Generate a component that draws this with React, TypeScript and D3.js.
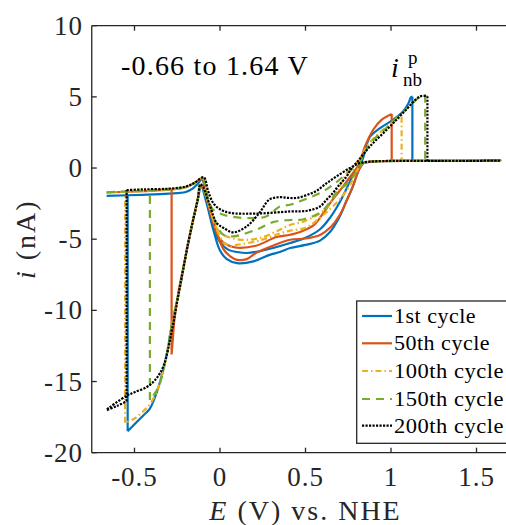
import React from 'react';
import * as d3 from 'd3';

type Pt = [number, number];

const cycleNames = ['1st cycle', '50th cycle', '100th cycle', '150th cycle', '200th cycle'];
const cycleColors = ['#0072BD', '#D95319', '#EDB120', '#77AC30', '#000000'];
const cycleDash = ['none', 'none', '6,3,1.5,3', '8,6', '2.2,1.3'];
const xTicks = [-0.5, 0, 0.5, 1, 1.5];
const yTicks = [10, 5, 0, -5, -10, -15, -20];

// 1st cycle
const cycle1: Pt[] = [
  [-0.663, -1.95], [-0.45, -1.88], [-0.3, -1.8], [-0.2, -1.68], [-0.16, -1.45], [-0.13, -1.1], [-0.105, -0.8],
  [-0.085, -1.6], [-0.06, -3.0], [-0.03, -4.4], [0.0, -5.2], [0.05, -5.75], [0.1, -5.9], [0.156, -5.97], [0.23, -5.85],
  [0.31, -5.62], [0.41, -5.27], [0.5, -4.9], [0.585, -4.3], [0.643, -3.5], [0.7, -2.4], [0.75, -1.2], [0.79, -0.2],
  [0.83, 0.5], [0.877, 2.2], [0.936, 2.8], [1.013, 3.4], [1.07, 3.98], [1.1, 4.5], [1.118, 5.0], [1.125, 5.0], [1.125, 0.5],
  [1.3, 0.5], [1.64, 0.52], [1.2, 0.5], [0.95, 0.49], [0.88, 0.45], [0.84, 0.35], [0.82, 0.1], [0.8, -0.5],
  [0.77, -1.5], [0.74, -2.3], [0.7, -3.4], [0.643, -4.5], [0.585, -5.1], [0.5, -5.4], [0.41, -5.62], [0.35, -5.9],
  [0.29, -6.1], [0.195, -6.56], [0.1, -6.68], [0.04, -6.4], [0.0, -5.8], [-0.04, -4.3], [-0.08, -2.4], [-0.11, -1.3],
  [-0.13, -2.2], [-0.16, -3.8], [-0.19, -5.5], [-0.205, -6.45], [-0.24, -8.7], [-0.283, -11.1], [-0.31, -13.0],
  [-0.36, -15.4], [-0.41, -16.9], [-0.45, -17.4], [-0.5, -18.0], [-0.54, -18.5], [-0.54, -1.9],
];

// 50th cycle
const cycle50: Pt[] = [
  [-0.663, -1.72], [-0.45, -1.62], [-0.3, -1.52], [-0.2, -1.35], [-0.15, -1.05], [-0.105, -0.75],
  [-0.085, -1.7], [-0.06, -3.0], [-0.03, -4.2], [0.0, -5.0], [0.05, -5.45], [0.1, -5.6], [0.21, -5.46], [0.33, -4.85],
  [0.41, -4.69], [0.468, -4.5], [0.55, -4.0], [0.604, -3.16], [0.66, -2.2], [0.72, -1.29], [0.78, -0.3], [0.81, 0.2],
  [0.848, 1.52], [0.896, 2.69], [0.946, 3.4], [0.985, 3.68], [1.004, 3.8], [1.004, 0.5],
  [1.3, 0.5], [1.64, 0.52], [1.2, 0.5], [0.95, 0.49], [0.88, 0.45], [0.84, 0.35], [0.81, -0.2], [0.78, -1.2],
  [0.74, -2.3], [0.7, -3.3], [0.643, -4.2], [0.585, -4.7], [0.5, -4.95], [0.41, -5.04], [0.29, -5.55], [0.21, -5.97],
  [0.156, -6.4], [0.1, -6.45], [0.06, -6.2], [0.02, -5.7], [-0.02, -4.5], [-0.06, -2.8], [-0.1, -1.4], [-0.115, -1.25],
  [-0.13, -2.2], [-0.16, -3.8], [-0.19, -5.5], [-0.205, -6.45], [-0.24, -8.5], [-0.265, -10.5], [-0.276, -12.0],
  [-0.283, -13.1], [-0.283, -1.5],
];

// 100th cycle
const cycle100: Pt[] = [
  [-0.663, -1.72], [-0.45, -1.62], [-0.3, -1.52], [-0.2, -1.35], [-0.15, -1.05], [-0.1, -0.72],
  [-0.08, -1.8], [-0.05, -3.2], [-0.02, -4.2], [0.02, -4.7], [0.1, -5.0], [0.175, -5.04], [0.25, -4.85], [0.33, -4.45],
  [0.41, -4.0], [0.49, -3.75], [0.604, -3.0], [0.68, -1.76], [0.74, -0.4], [0.8, 0.35], [0.877, 1.8], [0.975, 2.9],
  [1.062, 3.6], [1.062, 0.5],
  [1.3, 0.5], [1.64, 0.52], [1.2, 0.5], [0.95, 0.49], [0.88, 0.45], [0.83, 0.3], [0.8, -0.2], [0.76, -1.2],
  [0.7, -2.2], [0.604, -3.3], [0.5, -4.2], [0.41, -4.4], [0.35, -4.6], [0.23, -5.1], [0.1, -5.4], [0.06, -5.5],
  [0.02, -5.2], [-0.02, -4.3], [-0.06, -2.8], [-0.1, -1.4], [-0.115, -1.25],
  [-0.13, -2.2], [-0.16, -3.8], [-0.19, -5.5], [-0.205, -6.45], [-0.24, -8.7], [-0.283, -11.1], [-0.31, -13.0],
  [-0.36, -15.4], [-0.41, -16.6], [-0.45, -17.1], [-0.5, -17.6], [-0.555, -17.9], [-0.555, -1.65],
];

// 150th cycle
const cycle150: Pt[] = [
  [-0.663, -1.7], [-0.45, -1.6], [-0.3, -1.5], [-0.2, -1.33], [-0.15, -1.05], [-0.1, -0.72],
  [-0.08, -1.7], [-0.06, -2.5], [-0.04, -2.93], [0.0, -3.2], [0.06, -3.4], [0.156, -3.51], [0.27, -3.4], [0.35, -2.7],
  [0.41, -2.58], [0.468, -2.34], [0.604, -1.64], [0.68, -1.0], [0.76, -0.2], [0.81, 0.3], [0.877, 1.7], [0.975, 2.85],
  [1.07, 3.95], [1.17, 5.0], [1.195, 5.15], [1.2, 5.15], [1.2, 0.5],
  [1.3, 0.5], [1.64, 0.52], [1.25, 0.5], [0.95, 0.49], [0.88, 0.45], [0.83, 0.3], [0.8, -0.2], [0.76, -0.9],
  [0.68, -1.76], [0.6, -3.0], [0.49, -3.6], [0.41, -3.65], [0.31, -3.8], [0.21, -4.34], [0.08, -4.8], [0.02, -4.7],
  [-0.02, -4.0], [-0.06, -2.6], [-0.1, -1.4], [-0.115, -1.2],
  [-0.13, -2.2], [-0.16, -3.8], [-0.19, -5.5], [-0.205, -6.45], [-0.24, -8.7], [-0.283, -11.1], [-0.31, -13.0],
  [-0.36, -15.4], [-0.41, -16.3], [-0.41, -1.6],
];

// 200th cycle
const cycle200: Pt[] = [
  [-0.546, -1.55], [-0.45, -1.5], [-0.3, -1.45], [-0.2, -1.3], [-0.15, -1.05], [-0.095, -0.65],
  [-0.07, -1.6], [-0.04, -2.45], [0.0, -2.9], [0.06, -3.15], [0.21, -3.2], [0.41, -3.05], [0.51, -3.0], [0.585, -2.7],
  [0.623, -2.23], [0.66, -1.76], [0.69, -1.29], [0.74, -0.6], [0.77, 0.0], [0.8, 0.4], [0.877, 1.52], [0.975, 2.69],
  [1.07, 3.86], [1.17, 5.03], [1.213, 5.05], [1.213, 0.5],
  [1.4, 0.5], [1.64, 0.52], [1.3, 0.5], [0.95, 0.49], [0.88, 0.45], [0.82, 0.35], [0.76, 0.0], [0.68, -0.6],
  [0.62, -1.1], [0.565, -1.6], [0.507, -1.9], [0.45, -2.1], [0.4, -2.1], [0.35, -2.05], [0.29, -2.2], [0.23, -3.16],
  [0.156, -4.1], [0.078, -4.52], [0.02, -4.2], [-0.02, -3.85], [-0.06, -2.6], [-0.1, -1.3], [-0.115, -1.15],
  [-0.13, -2.2], [-0.16, -3.8], [-0.19, -5.5], [-0.205, -6.45], [-0.24, -8.7], [-0.283, -11.5], [-0.33, -13.9],
  [-0.38, -14.9], [-0.43, -15.4], [-0.5, -15.75], [-0.546, -16.0], [-0.663, -17.0], [-0.6, -16.7], [-0.546, -16.4],
  [-0.546, -1.55],
];

const cycles: Pt[][] = [cycle1, cycle50, cycle100, cycle150, cycle200];

const W = 506;
const H = 525;
const plot = { left: 91.75, right: 519.25, top: 25.7, bottom: 452.7 };
const FONT = '"Liberation Serif", "Times New Roman", serif';
const AX = '#262626';

export default function App() {
  const x = d3.scaleLinear().domain([-0.75, 1.75]).range([plot.left, plot.right]);
  const y = d3.scaleLinear().domain([-20, 10]).range([plot.bottom, plot.top]);
  const smooth = d3
    .line<Pt>()
    .x((d) => x(d[0]))
    .y((d) => y(d[1]))
    .curve(d3.curveCatmullRom.alpha(0.5));
  const straight = d3
    .line<Pt>()
    .x((d) => x(d[0]))
    .y((d) => y(d[1]));

  // smooth runs, with vertical jumps (equal potential) drawn straight
  const buildPath = (pts: Pt[]) => {
    let d = '';
    let run: Pt[] = [pts[0]];
    for (let k = 1; k < pts.length; k++) {
      if (pts[k][0] === pts[k - 1][0]) {
        if (run.length > 1) d += smooth(run) || '';
        d += straight([pts[k - 1], pts[k]]) || '';
        run = [pts[k]];
      } else {
        run.push(pts[k]);
      }
    }
    if (run.length > 1) d += smooth(run) || '';
    return d;
  };

  const legendX = 356.7;
  const legendTop = 301;
  const legendBottom = 443.3;
  const rowY = [316, 343.3, 371, 399, 425.7];

  return (
    <svg
      width={W}
      height={H}
      style={{ position: 'absolute', left: 0, top: 0, background: '#fff' }}
      fontFamily={FONT}
    >
      <rect x={0} y={0} width={W} height={H} fill="#fff" />
      {/* curves */}
      <g fill="none" strokeLinejoin="round">
        {cycles.map((c, k) => (
          <path
            key={k}
            d={buildPath(c)}
            stroke={cycleColors[k]}
            strokeWidth={2.2}
            strokeDasharray={cycleDash[k]}
          />
        ))}
      </g>
      {/* frame */}
      <g stroke={AX} strokeWidth={1.3} fill="none">
        <line x1={plot.left} x2={plot.right} y1={plot.top} y2={plot.top} />
        <line x1={plot.left} x2={plot.right} y1={plot.bottom} y2={plot.bottom} />
        <line x1={plot.left} x2={plot.left} y1={plot.top} y2={plot.bottom} />
        <line x1={plot.right} x2={plot.right} y1={plot.top} y2={plot.bottom} />
        {xTicks.map((t) => (
          <g key={'xt' + t}>
            <line x1={x(t)} x2={x(t)} y1={plot.bottom} y2={plot.bottom - 5} />
            <line x1={x(t)} x2={x(t)} y1={plot.top} y2={plot.top + 5} />
          </g>
        ))}
        {yTicks.map((t) => (
          <g key={'yt' + t}>
            <line x1={plot.left} x2={plot.left + 5} y1={y(t)} y2={y(t)} />
            <line x1={plot.right} x2={plot.right - 5} y1={y(t)} y2={y(t)} />
          </g>
        ))}
      </g>
      {/* tick labels */}
      <g fill={AX} fontSize={27}>
        {xTicks.map((t) => (
          <text key={'xl' + t} x={x(t)} y={486} textAnchor="middle" letterSpacing={1}>
            {t === 0 ? '0' : String(t)}
          </text>
        ))}
        {yTicks.map((t) => (
          <text key={'yl' + t} x={83} y={y(t) + 9} textAnchor="end" letterSpacing={1}>
            {String(t)}
          </text>
        ))}
      </g>
      {/* axis labels */}
      <text
        x={(plot.left + plot.right) / 2}
        y={520}
        textAnchor="middle"
        fontSize={28}
        letterSpacing={2}
        fill={AX}
      >
        <tspan fontStyle="italic">E</tspan> (V) vs. NHE
      </text>
      <text
        transform={`translate(35, ${(plot.top + plot.bottom) / 2}) rotate(-90)`}
        textAnchor="middle"
        fontSize={28}
        letterSpacing={2}
        fill={AX}
      >
        <tspan fontStyle="italic">i</tspan> (nA)
      </text>
      {/* annotations */}
      <text x={121} y={75} fontSize={28} letterSpacing={1.2} fill="#000">
        -0.66 to 1.64 V
      </text>
      <text x={391} y={77} fontSize={28} fill="#000" fontStyle="italic">
        i
      </text>
      <text x={408} y={64} fontSize={19} fill="#000">
        p
      </text>
      <text x={403} y={86} fontSize={19} fill="#000">
        nb
      </text>
      {/* legend */}
      <rect
        x={legendX}
        y={legendTop}
        width={200}
        height={legendBottom - legendTop}
        fill="#fff"
        stroke={AX}
        strokeWidth={1.3}
      />
      {cycleNames.map((name, k) => (
        <g key={name}>
          <line
            x1={362}
            x2={392}
            y1={rowY[k]}
            y2={rowY[k]}
            stroke={cycleColors[k]}
            strokeWidth={2.2}
            strokeDasharray={cycleDash[k]}
          />
          <text
            x={394}
            y={rowY[k] + 7}
            fontSize={22}
            letterSpacing={0.5}
            fill="#000"
            textLength={k >= 2 ? 110 : undefined}
            lengthAdjust="spacingAndGlyphs"
          >
            {name}
          </text>
        </g>
      ))}
    </svg>
  );
}
